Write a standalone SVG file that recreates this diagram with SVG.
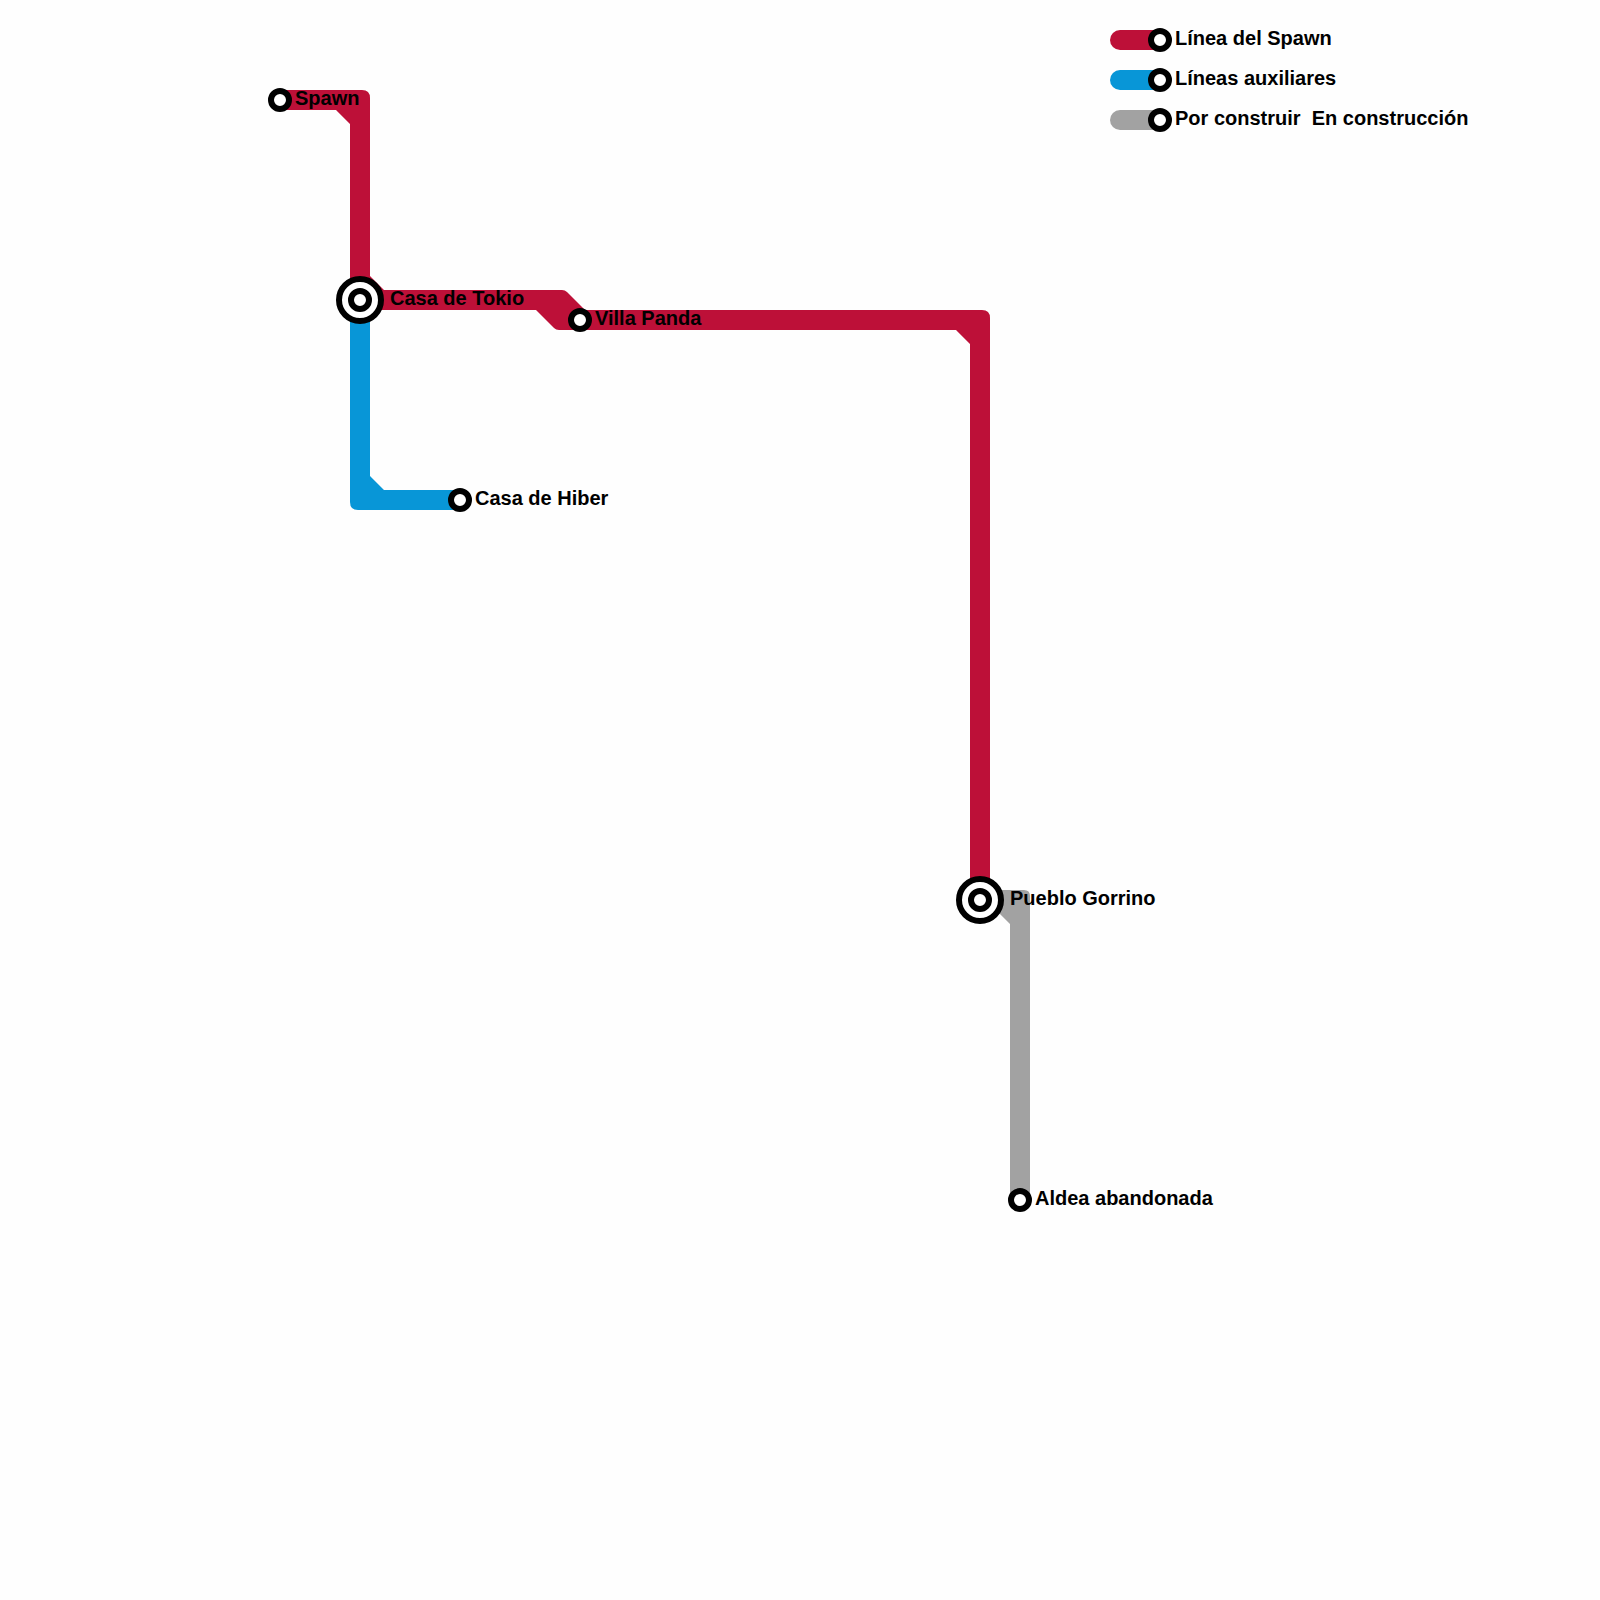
<svg xmlns="http://www.w3.org/2000/svg" width="1600" height="1600" viewBox="0 0 1600 1600">
<style>
.red{fill:#BD1038}.blue{fill:#0896D7}.gray{fill:#A2A2A2}
.st{fill:#fff;stroke:#000;stroke-width:6}
.ring{fill:#fff;stroke:#000;stroke-width:6}
text{font-family:"Liberation Sans",Arial,sans-serif;font-weight:700;font-size:20px;fill:#000}
</style>
<rect width="1600" height="1600" fill="#fefefe"/>
<g id="connectors">
<path class="blue" d="M350 300H370V476L384 490H460V510H358Q350 510 350 502Z"/>
<path class="red" d="M280 90H362Q370 90 370 98V276L384 290H562Q565 290 567 292L595 320V330H559Q556 330 554 328L536 310H350V124L336 110H280Z"/>
<path class="red" d="M580 310H982Q990 310 990 318V900H970V344L956 330H580Z"/>
<path class="gray" d="M980 890H1024Q1030 890 1030 896V1200H1010V924L996 910H980Z"/>
<path class="red" d="M1120 30H1160V50H1120A10 10 0 0 1 1120 30Z"/>
<path class="blue" d="M1120 70H1160V90H1120A10 10 0 0 1 1120 70Z"/>
<path class="gray" d="M1120 110H1160V130H1120A10 10 0 0 1 1120 110Z"/>
</g>
<g id="spawn"><circle class="st" cx="280" cy="100" r="9"/><text x="295" y="105">Spawn</text></g>
<g id="casa-tokio"><circle class="ring" cx="360" cy="300" r="21"/><circle class="st" cx="360" cy="300" r="9"/><text x="390" y="305">Casa de Tokio</text></g>
<g id="villa-panda"><circle class="st" cx="580" cy="320" r="9"/><text x="595" y="325">Villa Panda</text></g>
<g id="casa-hiber"><circle class="st" cx="460" cy="500" r="9"/><text x="475" y="505">Casa de Hiber</text></g>
<g id="pueblo-gorrino"><circle class="ring" cx="980" cy="900" r="21"/><circle class="st" cx="980" cy="900" r="9"/><text x="1010" y="905">Pueblo Gorrino</text></g>
<g id="aldea"><circle class="st" cx="1020" cy="1200" r="9"/><text x="1035" y="1205">Aldea abandonada</text></g>
<g id="legend-spawn"><circle class="st" cx="1160" cy="40" r="9"/><text x="1175" y="45">Línea del Spawn</text></g>
<g id="legend-aux"><circle class="st" cx="1160" cy="80" r="9"/><text x="1175" y="85">Líneas auxiliares</text></g>
<g id="legend-build"><circle class="st" cx="1160" cy="120" r="9"/><text x="1175" y="125" xml:space="preserve">Por construir  En construcción</text></g>
</svg>
